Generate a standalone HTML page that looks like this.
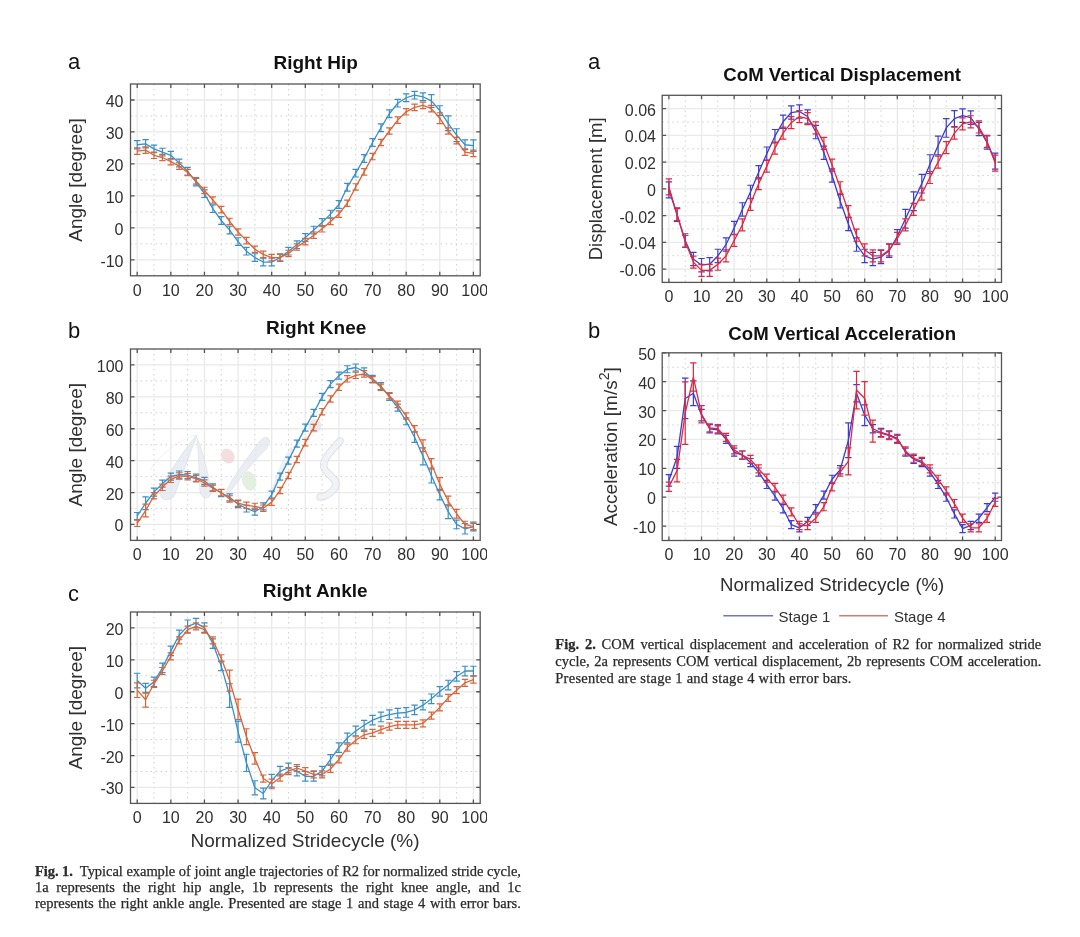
<!DOCTYPE html>
<html><head><meta charset="utf-8"><style>
html,body{margin:0;padding:0;background:#fff;}
body{width:1080px;height:937px;position:relative;overflow:hidden;filter:blur(0.4px);}
</style></head><body>
<svg width="1080" height="937" viewBox="0 0 1080 937" style="position:absolute;left:0;top:0" font-family='"Liberation Sans", sans-serif'>
<defs><clipPath id="clipL"><rect x="0" y="0" width="487" height="937"/></clipPath></defs>
<line x1="154.01" y1="84" x2="154.01" y2="275.8" stroke="#d2d2d2" stroke-width="1" stroke-dasharray="1.6 3.4"/>
<line x1="187.63" y1="84" x2="187.63" y2="275.8" stroke="#d2d2d2" stroke-width="1" stroke-dasharray="1.6 3.4"/>
<line x1="221.25" y1="84" x2="221.25" y2="275.8" stroke="#d2d2d2" stroke-width="1" stroke-dasharray="1.6 3.4"/>
<line x1="254.87" y1="84" x2="254.87" y2="275.8" stroke="#d2d2d2" stroke-width="1" stroke-dasharray="1.6 3.4"/>
<line x1="288.49" y1="84" x2="288.49" y2="275.8" stroke="#d2d2d2" stroke-width="1" stroke-dasharray="1.6 3.4"/>
<line x1="322.11" y1="84" x2="322.11" y2="275.8" stroke="#d2d2d2" stroke-width="1" stroke-dasharray="1.6 3.4"/>
<line x1="355.73" y1="84" x2="355.73" y2="275.8" stroke="#d2d2d2" stroke-width="1" stroke-dasharray="1.6 3.4"/>
<line x1="389.35" y1="84" x2="389.35" y2="275.8" stroke="#d2d2d2" stroke-width="1" stroke-dasharray="1.6 3.4"/>
<line x1="422.97" y1="84" x2="422.97" y2="275.8" stroke="#d2d2d2" stroke-width="1" stroke-dasharray="1.6 3.4"/>
<line x1="456.59" y1="84" x2="456.59" y2="275.8" stroke="#d2d2d2" stroke-width="1" stroke-dasharray="1.6 3.4"/>
<line x1="130.5" y1="243.83" x2="480.2" y2="243.83" stroke="#d2d2d2" stroke-width="1" stroke-dasharray="1.6 3.4"/>
<line x1="130.5" y1="211.87" x2="480.2" y2="211.87" stroke="#d2d2d2" stroke-width="1" stroke-dasharray="1.6 3.4"/>
<line x1="130.5" y1="179.9" x2="480.2" y2="179.9" stroke="#d2d2d2" stroke-width="1" stroke-dasharray="1.6 3.4"/>
<line x1="130.5" y1="147.93" x2="480.2" y2="147.93" stroke="#d2d2d2" stroke-width="1" stroke-dasharray="1.6 3.4"/>
<line x1="130.5" y1="115.97" x2="480.2" y2="115.97" stroke="#d2d2d2" stroke-width="1" stroke-dasharray="1.6 3.4"/>
<line x1="137.2" y1="84" x2="137.2" y2="275.8" stroke="#e9e9e9" stroke-width="1.3"/>
<line x1="170.82" y1="84" x2="170.82" y2="275.8" stroke="#e9e9e9" stroke-width="1.3"/>
<line x1="204.44" y1="84" x2="204.44" y2="275.8" stroke="#e9e9e9" stroke-width="1.3"/>
<line x1="238.06" y1="84" x2="238.06" y2="275.8" stroke="#e9e9e9" stroke-width="1.3"/>
<line x1="271.68" y1="84" x2="271.68" y2="275.8" stroke="#e9e9e9" stroke-width="1.3"/>
<line x1="305.3" y1="84" x2="305.3" y2="275.8" stroke="#e9e9e9" stroke-width="1.3"/>
<line x1="338.92" y1="84" x2="338.92" y2="275.8" stroke="#e9e9e9" stroke-width="1.3"/>
<line x1="372.54" y1="84" x2="372.54" y2="275.8" stroke="#e9e9e9" stroke-width="1.3"/>
<line x1="406.16" y1="84" x2="406.16" y2="275.8" stroke="#e9e9e9" stroke-width="1.3"/>
<line x1="439.78" y1="84" x2="439.78" y2="275.8" stroke="#e9e9e9" stroke-width="1.3"/>
<line x1="473.4" y1="84" x2="473.4" y2="275.8" stroke="#e9e9e9" stroke-width="1.3"/>
<line x1="130.5" y1="259.82" x2="480.2" y2="259.82" stroke="#e9e9e9" stroke-width="1.3"/>
<line x1="130.5" y1="227.85" x2="480.2" y2="227.85" stroke="#e9e9e9" stroke-width="1.3"/>
<line x1="130.5" y1="195.88" x2="480.2" y2="195.88" stroke="#e9e9e9" stroke-width="1.3"/>
<line x1="130.5" y1="163.92" x2="480.2" y2="163.92" stroke="#e9e9e9" stroke-width="1.3"/>
<line x1="130.5" y1="131.95" x2="480.2" y2="131.95" stroke="#e9e9e9" stroke-width="1.3"/>
<line x1="130.5" y1="99.98" x2="480.2" y2="99.98" stroke="#e9e9e9" stroke-width="1.3"/>
<polyline points="137.2,144.74 145.6,143.78 154.01,148.89 162.41,152.09 170.82,155.29 179.22,162.96 187.63,171.27 196.03,182.14 204.44,193.65 212.84,208.67 221.25,220.5 229.65,230.09 238.06,241.6 246.46,251.19 254.87,257.58 263.27,262.05 271.68,262.05 280.08,257.58 288.49,251.19 296.89,244.79 305.3,237.44 313.7,230.09 322.11,222.42 330.51,214.1 338.92,204.51 347.32,187.25 355.73,173.19 364.13,158.48 372.54,142.5 380.94,127.79 389.35,113.73 397.75,103.18 406.16,97.75 414.56,95.19 422.97,96.79 431.38,100.94 439.78,110.53 448.19,123.32 456.59,135.15 465,144.74 473.4,145.7" fill="none" stroke="#3a8fc8" stroke-width="1.3" stroke-linejoin="round"/>
<path d="M137.2 140.58V148.89M134 140.58H140.4M134 148.89H140.4M145.6 139.62V147.93M142.41 139.62H148.8M142.41 147.93H148.8M154.01 145.06V152.73M150.81 145.06H157.21M150.81 152.73H157.21M162.41 148.25V155.93M159.22 148.25H165.61M159.22 155.93H165.61M170.82 151.45V159.12M167.62 151.45H174.02M167.62 159.12H174.02M179.22 159.12V166.79M176.03 159.12H182.42M176.03 166.79H182.42M187.63 167.43V175.11M184.43 167.43H190.83M184.43 175.11H190.83M196.03 178.3V185.97M192.84 178.3H199.23M192.84 185.97H199.23M204.44 189.81V197.48M201.24 189.81H207.64M201.24 197.48H207.64M212.84 204.83V212.51M209.64 204.83H216.04M209.64 212.51H216.04M221.25 216.66V224.33M218.05 216.66H224.45M218.05 224.33H224.45M229.65 226.25V233.92M226.45 226.25H232.85M226.45 233.92H232.85M238.06 237.76V245.43M234.86 237.76H241.26M234.86 245.43H241.26M246.46 247.35V255.02M243.26 247.35H249.66M243.26 255.02H249.66M254.87 253.74V261.42M251.67 253.74H258.07M251.67 261.42H258.07M263.27 258.22V265.89M260.07 258.22H266.47M260.07 265.89H266.47M271.68 258.22V265.89M268.48 258.22H274.88M268.48 265.89H274.88M280.08 253.74V261.42M276.88 253.74H283.28M276.88 261.42H283.28M288.49 247.35V255.02M285.29 247.35H291.69M285.29 255.02H291.69M296.89 240.96V248.63M293.69 240.96H300.09M293.69 248.63H300.09M305.3 233.6V241.28M302.1 233.6H308.5M302.1 241.28H308.5M313.7 226.25V233.92M310.5 226.25H316.9M310.5 233.92H316.9M322.11 218.58V226.25M318.91 218.58H325.31M318.91 226.25H325.31M330.51 210.27V217.94M327.31 210.27H333.71M327.31 217.94H333.71M338.92 200.68V208.35M335.72 200.68H342.12M335.72 208.35H342.12M347.32 183.42V191.09M344.12 183.42H350.52M344.12 191.09H350.52M355.73 169.35V177.02M352.53 169.35H358.93M352.53 177.02H358.93M364.13 154.65V162.32M360.94 154.65H367.33M360.94 162.32H367.33M372.54 138.66V146.34M369.34 138.66H375.74M369.34 146.34H375.74M380.94 123.96V131.63M377.75 123.96H384.14M377.75 131.63H384.14M389.35 109.89V117.56M386.15 109.89H392.55M386.15 117.56H392.55M397.75 99.34V107.02M394.56 99.34H400.95M394.56 107.02H400.95M406.16 93.91V101.58M402.96 93.91H409.36M402.96 101.58H409.36M414.56 91.35V99.02M411.37 91.35H417.76M411.37 99.02H417.76M422.97 92.95V100.62M419.77 92.95H426.17M419.77 100.62H426.17M431.38 94.55V107.34M428.18 94.55H434.57M428.18 107.34H434.57M439.78 105.74V115.33M436.58 105.74H442.98M436.58 115.33H442.98M448.19 115.97V130.67M444.99 115.97H451.38M444.99 130.67H451.38M456.59 128.75V141.54M453.39 128.75H459.79M453.39 141.54H459.79M465 139.94V149.53M461.8 139.94H468.19M461.8 149.53H468.19M473.4 139.94V151.45M470.2 139.94H476.6M470.2 151.45H476.6" fill="none" stroke="#3a8fc8" stroke-width="1.2"/>
<polyline points="137.2,151.13 145.6,150.17 154.01,155.29 162.41,157.52 170.82,161.68 179.22,166.15 187.63,172.55 196.03,180.86 204.44,190.45 212.84,200.04 221.25,209.63 229.65,221.46 238.06,232.01 246.46,240.64 254.87,249.27 263.27,254.38 271.68,257.58 280.08,257.58 288.49,253.42 296.89,247.03 305.3,241.6 313.7,235.2 322.11,228.81 330.51,221.46 338.92,214.1 347.32,203.24 355.73,186.93 364.13,171.91 372.54,156.56 380.94,142.5 389.35,130.99 397.75,120.12 406.16,111.81 414.56,107.34 422.97,105.42 431.38,108.61 439.78,118.2 448.19,130.99 456.59,140.58 465,152.09 473.4,153.37" fill="none" stroke="#d9653a" stroke-width="1.3" stroke-linejoin="round"/>
<path d="M137.2 147.93V154.33M134 147.93H140.4M134 154.33H140.4M145.6 146.97V153.37M142.41 146.97H148.8M142.41 153.37H148.8M154.01 152.09V158.48M150.81 152.09H157.21M150.81 158.48H157.21M162.41 154.33V160.72M159.22 154.33H165.61M159.22 160.72H165.61M170.82 158.48V164.88M167.62 158.48H174.02M167.62 164.88H174.02M179.22 162.96V169.35M176.03 162.96H182.42M176.03 169.35H182.42M187.63 169.35V175.74M184.43 169.35H190.83M184.43 175.74H190.83M196.03 177.66V184.06M192.84 177.66H199.23M192.84 184.06H199.23M204.44 187.25V193.65M201.24 187.25H207.64M201.24 193.65H207.64M212.84 196.84V203.24M209.64 196.84H216.04M209.64 203.24H216.04M221.25 206.43V212.83M218.05 206.43H224.45M218.05 212.83H224.45M229.65 218.26V224.65M226.45 218.26H232.85M226.45 224.65H232.85M238.06 228.81V235.2M234.86 228.81H241.26M234.86 235.2H241.26M246.46 237.44V243.83M243.26 237.44H249.66M243.26 243.83H249.66M254.87 246.07V252.46M251.67 246.07H258.07M251.67 252.46H258.07M263.27 251.19V257.58M260.07 251.19H266.47M260.07 257.58H266.47M271.68 254.38V260.78M268.48 254.38H274.88M268.48 260.78H274.88M280.08 254.38V260.78M276.88 254.38H283.28M276.88 260.78H283.28M288.49 250.23V256.62M285.29 250.23H291.69M285.29 256.62H291.69M296.89 243.83V250.23M293.69 243.83H300.09M293.69 250.23H300.09M305.3 238.4V244.79M302.1 238.4H308.5M302.1 244.79H308.5M313.7 232.01V238.4M310.5 232.01H316.9M310.5 238.4H316.9M322.11 225.61V232.01M318.91 225.61H325.31M318.91 232.01H325.31M330.51 218.26V224.65M327.31 218.26H333.71M327.31 224.65H333.71M338.92 210.91V217.3M335.72 210.91H342.12M335.72 217.3H342.12M347.32 200.04V206.43M344.12 200.04H350.52M344.12 206.43H350.52M355.73 183.74V190.13M352.53 183.74H358.93M352.53 190.13H358.93M364.13 168.71V175.11M360.94 168.71H367.33M360.94 175.11H367.33M372.54 153.37V159.76M369.34 153.37H375.74M369.34 159.76H375.74M380.94 139.3V145.7M377.75 139.3H384.14M377.75 145.7H384.14M389.35 127.79V134.19M386.15 127.79H392.55M386.15 134.19H392.55M397.75 116.93V123.32M394.56 116.93H400.95M394.56 123.32H400.95M406.16 108.61V115.01M402.96 108.61H409.36M402.96 115.01H409.36M414.56 104.14V110.53M411.37 104.14H417.76M411.37 110.53H417.76M422.97 102.22V108.61M419.77 102.22H426.17M419.77 108.61H426.17M431.38 105.42V111.81M428.18 105.42H434.57M428.18 111.81H434.57M439.78 112.77V123.64M436.58 112.77H442.98M436.58 123.64H442.98M448.19 127.79V134.19M444.99 127.79H451.38M444.99 134.19H451.38M456.59 137.38V143.78M453.39 137.38H459.79M453.39 143.78H459.79M465 148.89V155.29M461.8 148.89H468.19M461.8 155.29H468.19M473.4 150.17V156.56M470.2 150.17H476.6M470.2 156.56H476.6" fill="none" stroke="#d9653a" stroke-width="1.2"/>
<rect x="130.5" y="84" width="349.7" height="191.8" fill="none" stroke="#555555" stroke-width="1.3"/>
<path d="M137.2 84v4M137.2 275.8v-4M170.82 84v4M170.82 275.8v-4M204.44 84v4M204.44 275.8v-4M238.06 84v4M238.06 275.8v-4M271.68 84v4M271.68 275.8v-4M305.3 84v4M305.3 275.8v-4M338.92 84v4M338.92 275.8v-4M372.54 84v4M372.54 275.8v-4M406.16 84v4M406.16 275.8v-4M439.78 84v4M439.78 275.8v-4M473.4 84v4M473.4 275.8v-4M130.5 259.82h4M480.2 259.82h-4M130.5 227.85h4M480.2 227.85h-4M130.5 195.88h4M480.2 195.88h-4M130.5 163.92h4M480.2 163.92h-4M130.5 131.95h4M480.2 131.95h-4M130.5 99.98h4M480.2 99.98h-4" stroke="#555555" stroke-width="1.3"/>
<g font-size="16" fill="#303030" clip-path="url(#clipL)"><text x="137.2" y="295.6" text-anchor="middle">0</text><text x="170.82" y="295.6" text-anchor="middle">10</text><text x="204.44" y="295.6" text-anchor="middle">20</text><text x="238.06" y="295.6" text-anchor="middle">30</text><text x="271.68" y="295.6" text-anchor="middle">40</text><text x="305.3" y="295.6" text-anchor="middle">50</text><text x="338.92" y="295.6" text-anchor="middle">60</text><text x="372.54" y="295.6" text-anchor="middle">70</text><text x="406.16" y="295.6" text-anchor="middle">80</text><text x="439.78" y="295.6" text-anchor="middle">90</text><text x="474.7" y="295.6" text-anchor="middle">100</text><text x="123.5" y="266.82" text-anchor="end">-10</text><text x="123.5" y="234.85" text-anchor="end">0</text><text x="123.5" y="202.88" text-anchor="end">10</text><text x="123.5" y="170.92" text-anchor="end">20</text><text x="123.5" y="138.95" text-anchor="end">30</text><text x="123.5" y="106.98" text-anchor="end">40</text></g>
<line x1="154.01" y1="349" x2="154.01" y2="540.4" stroke="#d2d2d2" stroke-width="1" stroke-dasharray="1.6 3.4"/>
<line x1="187.63" y1="349" x2="187.63" y2="540.4" stroke="#d2d2d2" stroke-width="1" stroke-dasharray="1.6 3.4"/>
<line x1="221.25" y1="349" x2="221.25" y2="540.4" stroke="#d2d2d2" stroke-width="1" stroke-dasharray="1.6 3.4"/>
<line x1="254.87" y1="349" x2="254.87" y2="540.4" stroke="#d2d2d2" stroke-width="1" stroke-dasharray="1.6 3.4"/>
<line x1="288.49" y1="349" x2="288.49" y2="540.4" stroke="#d2d2d2" stroke-width="1" stroke-dasharray="1.6 3.4"/>
<line x1="322.11" y1="349" x2="322.11" y2="540.4" stroke="#d2d2d2" stroke-width="1" stroke-dasharray="1.6 3.4"/>
<line x1="355.73" y1="349" x2="355.73" y2="540.4" stroke="#d2d2d2" stroke-width="1" stroke-dasharray="1.6 3.4"/>
<line x1="389.35" y1="349" x2="389.35" y2="540.4" stroke="#d2d2d2" stroke-width="1" stroke-dasharray="1.6 3.4"/>
<line x1="422.97" y1="349" x2="422.97" y2="540.4" stroke="#d2d2d2" stroke-width="1" stroke-dasharray="1.6 3.4"/>
<line x1="456.59" y1="349" x2="456.59" y2="540.4" stroke="#d2d2d2" stroke-width="1" stroke-dasharray="1.6 3.4"/>
<line x1="130.5" y1="508.5" x2="480.2" y2="508.5" stroke="#d2d2d2" stroke-width="1" stroke-dasharray="1.6 3.4"/>
<line x1="130.5" y1="476.6" x2="480.2" y2="476.6" stroke="#d2d2d2" stroke-width="1" stroke-dasharray="1.6 3.4"/>
<line x1="130.5" y1="444.7" x2="480.2" y2="444.7" stroke="#d2d2d2" stroke-width="1" stroke-dasharray="1.6 3.4"/>
<line x1="130.5" y1="412.8" x2="480.2" y2="412.8" stroke="#d2d2d2" stroke-width="1" stroke-dasharray="1.6 3.4"/>
<line x1="130.5" y1="380.9" x2="480.2" y2="380.9" stroke="#d2d2d2" stroke-width="1" stroke-dasharray="1.6 3.4"/>
<line x1="137.2" y1="349" x2="137.2" y2="540.4" stroke="#e9e9e9" stroke-width="1.3"/>
<line x1="170.82" y1="349" x2="170.82" y2="540.4" stroke="#e9e9e9" stroke-width="1.3"/>
<line x1="204.44" y1="349" x2="204.44" y2="540.4" stroke="#e9e9e9" stroke-width="1.3"/>
<line x1="238.06" y1="349" x2="238.06" y2="540.4" stroke="#e9e9e9" stroke-width="1.3"/>
<line x1="271.68" y1="349" x2="271.68" y2="540.4" stroke="#e9e9e9" stroke-width="1.3"/>
<line x1="305.3" y1="349" x2="305.3" y2="540.4" stroke="#e9e9e9" stroke-width="1.3"/>
<line x1="338.92" y1="349" x2="338.92" y2="540.4" stroke="#e9e9e9" stroke-width="1.3"/>
<line x1="372.54" y1="349" x2="372.54" y2="540.4" stroke="#e9e9e9" stroke-width="1.3"/>
<line x1="406.16" y1="349" x2="406.16" y2="540.4" stroke="#e9e9e9" stroke-width="1.3"/>
<line x1="439.78" y1="349" x2="439.78" y2="540.4" stroke="#e9e9e9" stroke-width="1.3"/>
<line x1="473.4" y1="349" x2="473.4" y2="540.4" stroke="#e9e9e9" stroke-width="1.3"/>
<line x1="130.5" y1="524.45" x2="480.2" y2="524.45" stroke="#e9e9e9" stroke-width="1.3"/>
<line x1="130.5" y1="492.55" x2="480.2" y2="492.55" stroke="#e9e9e9" stroke-width="1.3"/>
<line x1="130.5" y1="460.65" x2="480.2" y2="460.65" stroke="#e9e9e9" stroke-width="1.3"/>
<line x1="130.5" y1="428.75" x2="480.2" y2="428.75" stroke="#e9e9e9" stroke-width="1.3"/>
<line x1="130.5" y1="396.85" x2="480.2" y2="396.85" stroke="#e9e9e9" stroke-width="1.3"/>
<line x1="130.5" y1="364.95" x2="480.2" y2="364.95" stroke="#e9e9e9" stroke-width="1.3"/>
<g opacity="0.75"><path d="M197 435 C184 449 168 474 161 490 C157 499 168 503 174 496 C182 477 189 456 197 435 Z" fill="#e3e7f0" stroke="#cfd3dc" stroke-width="0.7"/><path d="M197 438 C199 458 199 478 200 491 C201 500 212 500 211 491 C208 472 203 452 197 438 Z" fill="#e6e9f0" stroke="#d3d6de" stroke-width="0.7"/><path d="M150 470 C160 455 178 440 196 435" fill="none" stroke="#e2e4ea" stroke-width="0.7"/><path d="M268 438 C272 442 268 448 262 453 C248 468 236 484 226 497 C225 489 238 470 254 449 C258 443 264 435 268 438 Z" fill="#e4e7ee" stroke="#d2d5dd" stroke-width="0.7"/><path d="M291 447 C282 461 275 478 271 494 C277 480 285 463 293 450 Z" fill="#eceef3" stroke="#dcdee4" stroke-width="0.6"/><path d="M340 441 C330 452 320 462 325 470 C332 478 340 482 334 489 C330 494 324 497 320 497" fill="none" stroke="#d5d8e0" stroke-width="7.5" stroke-linecap="round"/><path d="M340 441 C330 452 320 462 325 470 C332 478 340 482 334 489 C330 494 324 497 320 497" fill="none" stroke="#eef0f4" stroke-width="5.5" stroke-linecap="round"/><ellipse cx="227.8" cy="456" rx="6.5" ry="7.8" transform="rotate(-30 227.8 456)" fill="#f0d4d6"/><ellipse cx="249.2" cy="481" rx="7" ry="9.8" transform="rotate(-15 249.2 481)" fill="#dcecd5"/><ellipse cx="315" cy="426" rx="6.5" ry="7" fill="#e2e4f0"/></g>
<polyline points="137.2,516 145.6,503.24 154.01,492.07 162.41,483.62 170.82,476.6 179.22,474.53 187.63,475 196.03,477.72 204.44,480.91 212.84,487.29 221.25,493.03 229.65,497.33 238.06,504.19 246.46,508.5 254.87,511.69 263.27,506.43 271.68,494.62 280.08,476.6 288.49,460.65 296.89,443.58 305.3,427.63 313.7,412.8 322.11,396.85 330.51,384.09 338.92,375.64 347.32,369.26 355.73,367.5 364.13,371.33 372.54,378.83 380.94,386.16 389.35,396.85 397.75,407.54 406.16,421.25 414.56,437.2 422.97,456.34 431.38,475.48 439.78,494.62 448.19,511.69 456.59,524.45 465,528.76 473.4,526.52" fill="none" stroke="#3a8fc8" stroke-width="1.3" stroke-linejoin="round"/>
<path d="M137.2 512.49V519.51M134 512.49H140.4M134 519.51H140.4M145.6 496.86V509.62M142.41 496.86H148.8M142.41 509.62H148.8M154.01 488.08V496.06M150.81 488.08H157.21M150.81 496.06H157.21M162.41 480.11V487.13M159.22 480.11H165.61M159.22 487.13H165.61M170.82 473.09V480.11M167.62 473.09H174.02M167.62 480.11H174.02M179.22 471.02V478.04M176.03 471.02H182.42M176.03 478.04H182.42M187.63 471.5V478.51M184.43 471.5H190.83M184.43 478.51H190.83M196.03 474.21V481.23M192.84 474.21H199.23M192.84 481.23H199.23M204.44 477.4V484.42M201.24 477.4H207.64M201.24 484.42H207.64M212.84 483.78V490.8M209.64 483.78H216.04M209.64 490.8H216.04M221.25 489.52V496.54M218.05 489.52H224.45M218.05 496.54H224.45M229.65 493.83V500.84M226.45 493.83H232.85M226.45 500.84H232.85M238.06 500.68V507.7M234.86 500.68H241.26M234.86 507.7H241.26M246.46 504.99V512.01M243.26 504.99H249.66M243.26 512.01H249.66M254.87 508.18V515.2M251.67 508.18H258.07M251.67 515.2H258.07M263.27 502.92V509.94M260.07 502.92H266.47M260.07 509.94H266.47M271.68 491.11V498.13M268.48 491.11H274.88M268.48 498.13H274.88M280.08 473.09V480.11M276.88 473.09H283.28M276.88 480.11H283.28M288.49 457.14V464.16M285.29 457.14H291.69M285.29 464.16H291.69M296.89 440.07V447.09M293.69 440.07H300.09M293.69 447.09H300.09M305.3 424.12V431.14M302.1 424.12H308.5M302.1 431.14H308.5M313.7 409.29V416.31M310.5 409.29H316.9M310.5 416.31H316.9M322.11 393.34V400.36M318.91 393.34H325.31M318.91 400.36H325.31M330.51 380.58V387.6M327.31 380.58H333.71M327.31 387.6H333.71M338.92 372.13V379.15M335.72 372.13H342.12M335.72 379.15H342.12M347.32 365.75V372.77M344.12 365.75H350.52M344.12 372.77H350.52M355.73 363.99V371.01M352.53 363.99H358.93M352.53 371.01H358.93M364.13 367.82V374.84M360.94 367.82H367.33M360.94 374.84H367.33M372.54 375.32V382.34M369.34 375.32H375.74M369.34 382.34H375.74M380.94 382.65V389.67M377.75 382.65H384.14M377.75 389.67H384.14M389.35 393.34V400.36M386.15 393.34H392.55M386.15 400.36H392.55M397.75 404.03V411.05M394.56 404.03H400.95M394.56 411.05H400.95M406.16 417.74V424.76M402.96 417.74H409.36M402.96 424.76H409.36M414.56 431.94V442.47M411.37 431.94H417.76M411.37 442.47H417.76M422.97 447.89V464.8M419.77 447.89H426.17M419.77 464.8H426.17M431.38 467.99V482.98M428.18 467.99H434.57M428.18 482.98H434.57M439.78 489.36V499.89M436.58 489.36H442.98M436.58 499.89H442.98M448.19 504.83V518.55M444.99 504.83H451.38M444.99 518.55H451.38M456.59 520.14V528.76M453.39 520.14H459.79M453.39 528.76H459.79M465 523.49V534.02M461.8 523.49H468.19M461.8 534.02H468.19M473.4 522.22V530.83M470.2 522.22H476.6M470.2 530.83H476.6" fill="none" stroke="#3a8fc8" stroke-width="1.2"/>
<polyline points="137.2,523.33 145.6,510.57 154.01,495.74 162.41,487.29 170.82,479.31 179.22,475.96 187.63,476.6 196.03,478.67 204.44,482.98 212.84,488.24 221.25,492.55 229.65,498.93 238.06,503.24 246.46,505.31 254.87,506.43 263.27,508.18 271.68,502.12 280.08,490.48 288.49,475.48 296.89,459.53 305.3,442.63 313.7,427.63 322.11,411.68 330.51,398.92 338.92,387.28 347.32,378.83 355.73,375.32 364.13,373.88 372.54,379.78 380.94,387.28 389.35,395.73 397.75,404.35 406.16,415.99 414.56,428.75 422.97,445.82 431.38,463.84 439.78,484.1 448.19,501 456.59,513.76 465,524.45 473.4,526.52" fill="none" stroke="#d9653a" stroke-width="1.3" stroke-linejoin="round"/>
<path d="M137.2 520.14V526.52M134 520.14H140.4M134 526.52H140.4M145.6 504.19V516.95M142.41 504.19H148.8M142.41 516.95H148.8M154.01 492.55V498.93M150.81 492.55H157.21M150.81 498.93H157.21M162.41 484.1V490.48M159.22 484.1H165.61M159.22 490.48H165.61M170.82 476.12V482.5M167.62 476.12H174.02M167.62 482.5H174.02M179.22 472.77V479.15M176.03 472.77H182.42M176.03 479.15H182.42M187.63 473.41V479.79M184.43 473.41H190.83M184.43 479.79H190.83M196.03 475.48V481.86M192.84 475.48H199.23M192.84 481.86H199.23M204.44 479.79V486.17M201.24 479.79H207.64M201.24 486.17H207.64M212.84 485.05V491.43M209.64 485.05H216.04M209.64 491.43H216.04M221.25 489.36V495.74M218.05 489.36H224.45M218.05 495.74H224.45M229.65 495.74V502.12M226.45 495.74H232.85M226.45 502.12H232.85M238.06 500.05V506.43M234.86 500.05H241.26M234.86 506.43H241.26M246.46 502.12V508.5M243.26 502.12H249.66M243.26 508.5H249.66M254.87 503.24V509.62M251.67 503.24H258.07M251.67 509.62H258.07M263.27 504.99V511.37M260.07 504.99H266.47M260.07 511.37H266.47M271.68 498.93V505.31M268.48 498.93H274.88M268.48 505.31H274.88M280.08 487.29V493.67M276.88 487.29H283.28M276.88 493.67H283.28M288.49 472.29V478.67M285.29 472.29H291.69M285.29 478.67H291.69M296.89 456.34V462.72M293.69 456.34H300.09M293.69 462.72H300.09M305.3 439.44V445.82M302.1 439.44H308.5M302.1 445.82H308.5M313.7 424.44V430.82M310.5 424.44H316.9M310.5 430.82H316.9M322.11 408.49V414.87M318.91 408.49H325.31M318.91 414.87H325.31M330.51 395.73V402.11M327.31 395.73H333.71M327.31 402.11H333.71M338.92 384.09V390.47M335.72 384.09H342.12M335.72 390.47H342.12M347.32 375.64V382.02M344.12 375.64H350.52M344.12 382.02H350.52M355.73 372.13V378.51M352.53 372.13H358.93M352.53 378.51H358.93M364.13 370.69V377.07M360.94 370.69H367.33M360.94 377.07H367.33M372.54 376.59V382.97M369.34 376.59H375.74M369.34 382.97H375.74M380.94 384.09V390.47M377.75 384.09H384.14M377.75 390.47H384.14M389.35 392.54V398.92M386.15 392.54H392.55M386.15 398.92H392.55M397.75 401.16V407.54M394.56 401.16H400.95M394.56 407.54H400.95M406.16 412.8V419.18M402.96 412.8H409.36M402.96 419.18H409.36M414.56 425.56V431.94M411.37 425.56H417.76M411.37 431.94H417.76M422.97 439.91V451.72M419.77 439.91H426.17M419.77 451.72H426.17M431.38 458.58V469.1M428.18 458.58H434.57M428.18 469.1H434.57M439.78 477.72V490.48M436.58 477.72H442.98M436.58 490.48H442.98M448.19 496.22V505.79M444.99 496.22H451.38M444.99 505.79H451.38M456.59 509.46V518.07M453.39 509.46H459.79M453.39 518.07H459.79M465 521.26V527.64M461.8 521.26H468.19M461.8 527.64H468.19M473.4 523.33V529.71M470.2 523.33H476.6M470.2 529.71H476.6" fill="none" stroke="#d9653a" stroke-width="1.2"/>
<rect x="130.5" y="349" width="349.7" height="191.4" fill="none" stroke="#555555" stroke-width="1.3"/>
<path d="M137.2 349v4M137.2 540.4v-4M170.82 349v4M170.82 540.4v-4M204.44 349v4M204.44 540.4v-4M238.06 349v4M238.06 540.4v-4M271.68 349v4M271.68 540.4v-4M305.3 349v4M305.3 540.4v-4M338.92 349v4M338.92 540.4v-4M372.54 349v4M372.54 540.4v-4M406.16 349v4M406.16 540.4v-4M439.78 349v4M439.78 540.4v-4M473.4 349v4M473.4 540.4v-4M130.5 524.45h4M480.2 524.45h-4M130.5 492.55h4M480.2 492.55h-4M130.5 460.65h4M480.2 460.65h-4M130.5 428.75h4M480.2 428.75h-4M130.5 396.85h4M480.2 396.85h-4M130.5 364.95h4M480.2 364.95h-4" stroke="#555555" stroke-width="1.3"/>
<g font-size="16" fill="#303030" clip-path="url(#clipL)"><text x="137.2" y="560.2" text-anchor="middle">0</text><text x="170.82" y="560.2" text-anchor="middle">10</text><text x="204.44" y="560.2" text-anchor="middle">20</text><text x="238.06" y="560.2" text-anchor="middle">30</text><text x="271.68" y="560.2" text-anchor="middle">40</text><text x="305.3" y="560.2" text-anchor="middle">50</text><text x="338.92" y="560.2" text-anchor="middle">60</text><text x="372.54" y="560.2" text-anchor="middle">70</text><text x="406.16" y="560.2" text-anchor="middle">80</text><text x="439.78" y="560.2" text-anchor="middle">90</text><text x="474.7" y="560.2" text-anchor="middle">100</text><text x="123.5" y="531.45" text-anchor="end">0</text><text x="123.5" y="499.55" text-anchor="end">20</text><text x="123.5" y="467.65" text-anchor="end">40</text><text x="123.5" y="435.75" text-anchor="end">60</text><text x="123.5" y="403.85" text-anchor="end">80</text><text x="123.5" y="371.95" text-anchor="end">100</text></g>
<line x1="154.01" y1="612" x2="154.01" y2="803.4" stroke="#d2d2d2" stroke-width="1" stroke-dasharray="1.6 3.4"/>
<line x1="187.63" y1="612" x2="187.63" y2="803.4" stroke="#d2d2d2" stroke-width="1" stroke-dasharray="1.6 3.4"/>
<line x1="221.25" y1="612" x2="221.25" y2="803.4" stroke="#d2d2d2" stroke-width="1" stroke-dasharray="1.6 3.4"/>
<line x1="254.87" y1="612" x2="254.87" y2="803.4" stroke="#d2d2d2" stroke-width="1" stroke-dasharray="1.6 3.4"/>
<line x1="288.49" y1="612" x2="288.49" y2="803.4" stroke="#d2d2d2" stroke-width="1" stroke-dasharray="1.6 3.4"/>
<line x1="322.11" y1="612" x2="322.11" y2="803.4" stroke="#d2d2d2" stroke-width="1" stroke-dasharray="1.6 3.4"/>
<line x1="355.73" y1="612" x2="355.73" y2="803.4" stroke="#d2d2d2" stroke-width="1" stroke-dasharray="1.6 3.4"/>
<line x1="389.35" y1="612" x2="389.35" y2="803.4" stroke="#d2d2d2" stroke-width="1" stroke-dasharray="1.6 3.4"/>
<line x1="422.97" y1="612" x2="422.97" y2="803.4" stroke="#d2d2d2" stroke-width="1" stroke-dasharray="1.6 3.4"/>
<line x1="456.59" y1="612" x2="456.59" y2="803.4" stroke="#d2d2d2" stroke-width="1" stroke-dasharray="1.6 3.4"/>
<line x1="130.5" y1="771.5" x2="480.2" y2="771.5" stroke="#d2d2d2" stroke-width="1" stroke-dasharray="1.6 3.4"/>
<line x1="130.5" y1="739.6" x2="480.2" y2="739.6" stroke="#d2d2d2" stroke-width="1" stroke-dasharray="1.6 3.4"/>
<line x1="130.5" y1="707.7" x2="480.2" y2="707.7" stroke="#d2d2d2" stroke-width="1" stroke-dasharray="1.6 3.4"/>
<line x1="130.5" y1="675.8" x2="480.2" y2="675.8" stroke="#d2d2d2" stroke-width="1" stroke-dasharray="1.6 3.4"/>
<line x1="130.5" y1="643.9" x2="480.2" y2="643.9" stroke="#d2d2d2" stroke-width="1" stroke-dasharray="1.6 3.4"/>
<line x1="137.2" y1="612" x2="137.2" y2="803.4" stroke="#e9e9e9" stroke-width="1.3"/>
<line x1="170.82" y1="612" x2="170.82" y2="803.4" stroke="#e9e9e9" stroke-width="1.3"/>
<line x1="204.44" y1="612" x2="204.44" y2="803.4" stroke="#e9e9e9" stroke-width="1.3"/>
<line x1="238.06" y1="612" x2="238.06" y2="803.4" stroke="#e9e9e9" stroke-width="1.3"/>
<line x1="271.68" y1="612" x2="271.68" y2="803.4" stroke="#e9e9e9" stroke-width="1.3"/>
<line x1="305.3" y1="612" x2="305.3" y2="803.4" stroke="#e9e9e9" stroke-width="1.3"/>
<line x1="338.92" y1="612" x2="338.92" y2="803.4" stroke="#e9e9e9" stroke-width="1.3"/>
<line x1="372.54" y1="612" x2="372.54" y2="803.4" stroke="#e9e9e9" stroke-width="1.3"/>
<line x1="406.16" y1="612" x2="406.16" y2="803.4" stroke="#e9e9e9" stroke-width="1.3"/>
<line x1="439.78" y1="612" x2="439.78" y2="803.4" stroke="#e9e9e9" stroke-width="1.3"/>
<line x1="473.4" y1="612" x2="473.4" y2="803.4" stroke="#e9e9e9" stroke-width="1.3"/>
<line x1="130.5" y1="787.45" x2="480.2" y2="787.45" stroke="#e9e9e9" stroke-width="1.3"/>
<line x1="130.5" y1="755.55" x2="480.2" y2="755.55" stroke="#e9e9e9" stroke-width="1.3"/>
<line x1="130.5" y1="723.65" x2="480.2" y2="723.65" stroke="#e9e9e9" stroke-width="1.3"/>
<line x1="130.5" y1="691.75" x2="480.2" y2="691.75" stroke="#e9e9e9" stroke-width="1.3"/>
<line x1="130.5" y1="659.85" x2="480.2" y2="659.85" stroke="#e9e9e9" stroke-width="1.3"/>
<line x1="130.5" y1="627.95" x2="480.2" y2="627.95" stroke="#e9e9e9" stroke-width="1.3"/>
<polyline points="137.2,680.59 145.6,688.24 154.01,681.86 162.41,667.83 170.82,650.92 179.22,634.97 187.63,626.36 196.03,623.16 204.44,627.63 212.84,643.58 221.25,665.91 229.65,695.58 238.06,731.62 246.46,762.89 254.87,787.77 263.27,793.51 271.68,780.75 280.08,771.18 288.49,767.99 296.89,771.18 305.3,776.28 313.7,776.28 322.11,771.18 330.51,759.38 338.92,747.57 347.32,738 355.73,730.99 364.13,725.25 372.54,720.14 380.94,716.95 389.35,714.72 397.75,713.12 406.16,712.49 414.56,709.93 422.97,705.15 431.38,698.77 439.78,691.43 448.19,685.05 456.59,676.44 465,671.01 473.4,671.01" fill="none" stroke="#3a8fc8" stroke-width="1.3" stroke-linejoin="round"/>
<path d="M137.2 673.25V687.92M134 673.25H140.4M134 687.92H140.4M145.6 683.46V693.03M142.41 683.46H148.8M142.41 693.03H148.8M154.01 677.08V686.65M150.81 677.08H157.21M150.81 686.65H157.21M162.41 663.04V672.61M159.22 663.04H165.61M159.22 672.61H165.61M170.82 646.13V655.7M167.62 646.13H174.02M167.62 655.7H174.02M179.22 630.18V639.75M176.03 630.18H182.42M176.03 639.75H182.42M187.63 619.98V632.74M184.43 619.98H190.83M184.43 632.74H190.83M196.03 618.38V627.95M192.84 618.38H199.23M192.84 627.95H199.23M204.44 622.85V632.42M201.24 622.85H207.64M201.24 632.42H207.64M212.84 638.8V648.37M209.64 638.8H216.04M209.64 648.37H216.04M221.25 661.13V670.7M218.05 661.13H224.45M218.05 670.7H224.45M229.65 683.77V707.38M226.45 683.77H232.85M226.45 707.38H232.85M238.06 721.1V742.15M234.86 721.1H241.26M234.86 742.15H241.26M246.46 754.27V771.5M243.26 754.27H249.66M243.26 771.5H249.66M254.87 780.75V794.79M251.67 780.75H258.07M251.67 794.79H258.07M263.27 788.09V798.93M260.07 788.09H266.47M260.07 798.93H266.47M271.68 774.37V787.13M268.48 774.37H274.88M268.48 787.13H274.88M280.08 766.4V775.97M276.88 766.4H283.28M276.88 775.97H283.28M288.49 763.21V772.78M285.29 763.21H291.69M285.29 772.78H291.69M296.89 766.4V775.97M293.69 766.4H300.09M293.69 775.97H300.09M305.3 771.5V781.07M302.1 771.5H308.5M302.1 781.07H308.5M313.7 771.5V781.07M310.5 771.5H316.9M310.5 781.07H316.9M322.11 766.4V775.97M318.91 766.4H325.31M318.91 775.97H325.31M330.51 754.59V764.16M327.31 754.59H333.71M327.31 764.16H333.71M338.92 742.79V752.36M335.72 742.79H342.12M335.72 752.36H342.12M347.32 733.22V742.79M344.12 733.22H350.52M344.12 742.79H350.52M355.73 726.2V735.77M352.53 726.2H358.93M352.53 735.77H358.93M364.13 720.46V730.03M360.94 720.46H367.33M360.94 730.03H367.33M372.54 715.36V724.93M369.34 715.36H375.74M369.34 724.93H375.74M380.94 712.17V721.74M377.75 712.17H384.14M377.75 721.74H384.14M389.35 709.93V719.5M386.15 709.93H392.55M386.15 719.5H392.55M397.75 708.34V717.91M394.56 708.34H400.95M394.56 717.91H400.95M406.16 707.7V717.27M402.96 707.7H409.36M402.96 717.27H409.36M414.56 705.15V714.72M411.37 705.15H417.76M411.37 714.72H417.76M422.97 700.36V709.93M419.77 700.36H426.17M419.77 709.93H426.17M431.38 693.98V703.55M428.18 693.98H434.57M428.18 703.55H434.57M439.78 686.65V696.22M436.58 686.65H442.98M436.58 696.22H442.98M448.19 680.27V689.84M444.99 680.27H451.38M444.99 689.84H451.38M456.59 671.65V681.22M453.39 671.65H459.79M453.39 681.22H459.79M465 666.23V675.8M461.8 666.23H468.19M461.8 675.8H468.19M473.4 666.23V675.8M470.2 666.23H476.6M470.2 675.8H476.6" fill="none" stroke="#3a8fc8" stroke-width="1.2"/>
<polyline points="137.2,690.15 145.6,699.73 154.01,683.77 162.41,671.01 170.82,656.34 179.22,640.39 187.63,629.54 196.03,626.36 204.44,629.54 212.84,640.39 221.25,658.25 229.65,680.59 238.06,709.29 246.46,736.73 254.87,758.42 263.27,778.52 271.68,783.94 280.08,777.56 288.49,771.18 296.89,767.99 305.3,771.18 313.7,774.37 322.11,774.37 330.51,768.95 338.92,759.38 347.32,747.57 355.73,740.24 364.13,734.81 372.54,732.9 380.94,729.71 389.35,726.52 397.75,724.93 406.16,724.93 414.56,724.93 422.97,723.33 431.38,715.67 439.78,707.38 448.19,697.81 456.59,690.15 465,682.82 473.4,679.63" fill="none" stroke="#d9653a" stroke-width="1.3" stroke-linejoin="round"/>
<path d="M137.2 682.82V697.49M134 682.82H140.4M134 697.49H140.4M145.6 692.39V707.06M142.41 692.39H148.8M142.41 707.06H148.8M154.01 680.27V687.28M150.81 680.27H157.21M150.81 687.28H157.21M162.41 667.51V674.52M159.22 667.51H165.61M159.22 674.52H165.61M170.82 652.83V659.85M167.62 652.83H174.02M167.62 659.85H174.02M179.22 636.88V643.9M176.03 636.88H182.42M176.03 643.9H182.42M187.63 626.04V633.05M184.43 626.04H190.83M184.43 633.05H190.83M196.03 622.85V629.86M192.84 622.85H199.23M192.84 629.86H199.23M204.44 626.04V633.05M201.24 626.04H207.64M201.24 633.05H207.64M212.84 636.88V643.9M209.64 636.88H216.04M209.64 643.9H216.04M221.25 654.75V661.76M218.05 654.75H224.45M218.05 661.76H224.45M229.65 670.06V691.11M226.45 670.06H232.85M226.45 691.11H232.85M238.06 699.09V719.5M234.86 699.09H241.26M234.86 719.5H241.26M246.46 728.75V744.7M243.26 728.75H249.66M243.26 744.7H249.66M254.87 752.68V764.16M251.67 752.68H258.07M251.67 764.16H258.07M263.27 775.01V782.03M260.07 775.01H266.47M260.07 782.03H266.47M271.68 779.16V788.73M268.48 779.16H274.88M268.48 788.73H274.88M280.08 774.05V781.07M276.88 774.05H283.28M276.88 781.07H283.28M288.49 767.67V774.69M285.29 767.67H291.69M285.29 774.69H291.69M296.89 764.48V771.5M293.69 764.48H300.09M293.69 771.5H300.09M305.3 767.67V774.69M302.1 767.67H308.5M302.1 774.69H308.5M313.7 770.86V777.88M310.5 770.86H316.9M310.5 777.88H316.9M322.11 770.86V777.88M318.91 770.86H325.31M318.91 777.88H325.31M330.51 765.44V772.46M327.31 765.44H333.71M327.31 772.46H333.71M338.92 755.87V762.89M335.72 755.87H342.12M335.72 762.89H342.12M347.32 744.07V751.08M344.12 744.07H350.52M344.12 751.08H350.52M355.73 736.73V743.75M352.53 736.73H358.93M352.53 743.75H358.93M364.13 731.31V738.32M360.94 731.31H367.33M360.94 738.32H367.33M372.54 729.39V736.41M369.34 729.39H375.74M369.34 736.41H375.74M380.94 726.2V733.22M377.75 726.2H384.14M377.75 733.22H384.14M389.35 723.01V730.03M386.15 723.01H392.55M386.15 730.03H392.55M397.75 721.42V728.43M394.56 721.42H400.95M394.56 728.43H400.95M406.16 721.42V728.43M402.96 721.42H409.36M402.96 728.43H409.36M414.56 721.42V728.43M411.37 721.42H417.76M411.37 728.43H417.76M422.97 719.82V726.84M419.77 719.82H426.17M419.77 726.84H426.17M431.38 712.17V719.18M428.18 712.17H434.57M428.18 719.18H434.57M439.78 703.87V710.89M436.58 703.87H442.98M436.58 710.89H442.98M448.19 694.3V701.32M444.99 694.3H451.38M444.99 701.32H451.38M456.59 686.65V693.66M453.39 686.65H459.79M453.39 693.66H459.79M465 679.31V686.33M461.8 679.31H468.19M461.8 686.33H468.19M473.4 676.12V683.14M470.2 676.12H476.6M470.2 683.14H476.6" fill="none" stroke="#d9653a" stroke-width="1.2"/>
<rect x="130.5" y="612" width="349.7" height="191.4" fill="none" stroke="#555555" stroke-width="1.3"/>
<path d="M137.2 612v4M137.2 803.4v-4M170.82 612v4M170.82 803.4v-4M204.44 612v4M204.44 803.4v-4M238.06 612v4M238.06 803.4v-4M271.68 612v4M271.68 803.4v-4M305.3 612v4M305.3 803.4v-4M338.92 612v4M338.92 803.4v-4M372.54 612v4M372.54 803.4v-4M406.16 612v4M406.16 803.4v-4M439.78 612v4M439.78 803.4v-4M473.4 612v4M473.4 803.4v-4M130.5 787.45h4M480.2 787.45h-4M130.5 755.55h4M480.2 755.55h-4M130.5 723.65h4M480.2 723.65h-4M130.5 691.75h4M480.2 691.75h-4M130.5 659.85h4M480.2 659.85h-4M130.5 627.95h4M480.2 627.95h-4" stroke="#555555" stroke-width="1.3"/>
<g font-size="16" fill="#303030" clip-path="url(#clipL)"><text x="137.2" y="823.2" text-anchor="middle">0</text><text x="170.82" y="823.2" text-anchor="middle">10</text><text x="204.44" y="823.2" text-anchor="middle">20</text><text x="238.06" y="823.2" text-anchor="middle">30</text><text x="271.68" y="823.2" text-anchor="middle">40</text><text x="305.3" y="823.2" text-anchor="middle">50</text><text x="338.92" y="823.2" text-anchor="middle">60</text><text x="372.54" y="823.2" text-anchor="middle">70</text><text x="406.16" y="823.2" text-anchor="middle">80</text><text x="439.78" y="823.2" text-anchor="middle">90</text><text x="474.7" y="823.2" text-anchor="middle">100</text><text x="123.5" y="794.45" text-anchor="end">-30</text><text x="123.5" y="762.55" text-anchor="end">-20</text><text x="123.5" y="730.65" text-anchor="end">-10</text><text x="123.5" y="698.75" text-anchor="end">0</text><text x="123.5" y="666.85" text-anchor="end">10</text><text x="123.5" y="634.95" text-anchor="end">20</text></g>
<line x1="685.21" y1="95.3" x2="685.21" y2="282.4" stroke="#d2d2d2" stroke-width="1" stroke-dasharray="1.6 3.4"/>
<line x1="717.85" y1="95.3" x2="717.85" y2="282.4" stroke="#d2d2d2" stroke-width="1" stroke-dasharray="1.6 3.4"/>
<line x1="750.48" y1="95.3" x2="750.48" y2="282.4" stroke="#d2d2d2" stroke-width="1" stroke-dasharray="1.6 3.4"/>
<line x1="783.11" y1="95.3" x2="783.11" y2="282.4" stroke="#d2d2d2" stroke-width="1" stroke-dasharray="1.6 3.4"/>
<line x1="815.74" y1="95.3" x2="815.74" y2="282.4" stroke="#d2d2d2" stroke-width="1" stroke-dasharray="1.6 3.4"/>
<line x1="848.37" y1="95.3" x2="848.37" y2="282.4" stroke="#d2d2d2" stroke-width="1" stroke-dasharray="1.6 3.4"/>
<line x1="881" y1="95.3" x2="881" y2="282.4" stroke="#d2d2d2" stroke-width="1" stroke-dasharray="1.6 3.4"/>
<line x1="913.62" y1="95.3" x2="913.62" y2="282.4" stroke="#d2d2d2" stroke-width="1" stroke-dasharray="1.6 3.4"/>
<line x1="946.25" y1="95.3" x2="946.25" y2="282.4" stroke="#d2d2d2" stroke-width="1" stroke-dasharray="1.6 3.4"/>
<line x1="978.88" y1="95.3" x2="978.88" y2="282.4" stroke="#d2d2d2" stroke-width="1" stroke-dasharray="1.6 3.4"/>
<line x1="662.2" y1="255.67" x2="1001.5" y2="255.67" stroke="#d2d2d2" stroke-width="1" stroke-dasharray="1.6 3.4"/>
<line x1="662.2" y1="228.94" x2="1001.5" y2="228.94" stroke="#d2d2d2" stroke-width="1" stroke-dasharray="1.6 3.4"/>
<line x1="662.2" y1="202.21" x2="1001.5" y2="202.21" stroke="#d2d2d2" stroke-width="1" stroke-dasharray="1.6 3.4"/>
<line x1="662.2" y1="175.49" x2="1001.5" y2="175.49" stroke="#d2d2d2" stroke-width="1" stroke-dasharray="1.6 3.4"/>
<line x1="662.2" y1="148.76" x2="1001.5" y2="148.76" stroke="#d2d2d2" stroke-width="1" stroke-dasharray="1.6 3.4"/>
<line x1="662.2" y1="122.03" x2="1001.5" y2="122.03" stroke="#d2d2d2" stroke-width="1" stroke-dasharray="1.6 3.4"/>
<line x1="668.9" y1="95.3" x2="668.9" y2="282.4" stroke="#e9e9e9" stroke-width="1.3"/>
<line x1="701.53" y1="95.3" x2="701.53" y2="282.4" stroke="#e9e9e9" stroke-width="1.3"/>
<line x1="734.16" y1="95.3" x2="734.16" y2="282.4" stroke="#e9e9e9" stroke-width="1.3"/>
<line x1="766.79" y1="95.3" x2="766.79" y2="282.4" stroke="#e9e9e9" stroke-width="1.3"/>
<line x1="799.42" y1="95.3" x2="799.42" y2="282.4" stroke="#e9e9e9" stroke-width="1.3"/>
<line x1="832.05" y1="95.3" x2="832.05" y2="282.4" stroke="#e9e9e9" stroke-width="1.3"/>
<line x1="864.68" y1="95.3" x2="864.68" y2="282.4" stroke="#e9e9e9" stroke-width="1.3"/>
<line x1="897.31" y1="95.3" x2="897.31" y2="282.4" stroke="#e9e9e9" stroke-width="1.3"/>
<line x1="929.94" y1="95.3" x2="929.94" y2="282.4" stroke="#e9e9e9" stroke-width="1.3"/>
<line x1="962.57" y1="95.3" x2="962.57" y2="282.4" stroke="#e9e9e9" stroke-width="1.3"/>
<line x1="995.2" y1="95.3" x2="995.2" y2="282.4" stroke="#e9e9e9" stroke-width="1.3"/>
<line x1="662.2" y1="269.04" x2="1001.5" y2="269.04" stroke="#e9e9e9" stroke-width="1.3"/>
<line x1="662.2" y1="242.31" x2="1001.5" y2="242.31" stroke="#e9e9e9" stroke-width="1.3"/>
<line x1="662.2" y1="215.58" x2="1001.5" y2="215.58" stroke="#e9e9e9" stroke-width="1.3"/>
<line x1="662.2" y1="188.85" x2="1001.5" y2="188.85" stroke="#e9e9e9" stroke-width="1.3"/>
<line x1="662.2" y1="162.12" x2="1001.5" y2="162.12" stroke="#e9e9e9" stroke-width="1.3"/>
<line x1="662.2" y1="135.39" x2="1001.5" y2="135.39" stroke="#e9e9e9" stroke-width="1.3"/>
<line x1="662.2" y1="108.66" x2="1001.5" y2="108.66" stroke="#e9e9e9" stroke-width="1.3"/>
<polyline points="668.9,189.92 677.06,214.64 685.21,240.44 693.37,259.01 701.53,265.16 709.69,264.22 717.85,255.94 726,244.58 734.16,228.01 742.32,209.43 750.48,191.92 758.63,172.28 766.79,153.7 774.95,136.19 783.11,121.76 791.26,112.54 799.42,111.47 807.58,116.55 815.74,132.05 823.89,152.77 832.05,175.49 840.21,201.28 848.37,224 856.52,244.58 864.68,255.94 872.84,259.01 881,257.01 889.15,250.73 897.31,236.29 905.47,218.79 913.62,201.28 921.78,183.64 929.94,164.13 938.1,145.55 946.25,127.91 954.41,118.69 962.57,115.61 970.73,117.62 978.88,128.98 987.04,142.48 995.2,161.05" fill="none" stroke="#3c3cd2" stroke-width="1.3" stroke-linejoin="round"/>
<path d="M668.9 181.9V197.94M665.7 181.9H672.1M665.7 197.94H672.1M677.06 207.96V221.33M673.86 207.96H680.26M673.86 221.33H680.26M685.21 233.75V247.12M682.01 233.75H688.41M682.01 247.12H688.41M693.37 252.33V265.69M690.17 252.33H696.57M690.17 265.69H696.57M701.53 258.48V271.84M698.33 258.48H704.73M698.33 271.84H704.73M709.69 257.54V270.91M706.49 257.54H712.89M706.49 270.91H712.89M717.85 249.26V262.62M714.64 249.26H721.05M714.64 262.62H721.05M726 237.9V251.26M722.8 237.9H729.2M722.8 251.26H729.2M734.16 221.33V234.69M730.96 221.33H737.36M730.96 234.69H737.36M742.32 202.75V216.11M739.12 202.75H745.52M739.12 216.11H745.52M750.48 185.24V198.61M747.27 185.24H753.68M747.27 198.61H753.68M758.63 165.6V178.96M755.43 165.6H761.83M755.43 178.96H761.83M766.79 147.02V160.38M763.59 147.02H769.99M763.59 160.38H769.99M774.95 129.51V142.88M771.75 129.51H778.15M771.75 142.88H778.15M783.11 115.08V128.44M779.9 115.08H786.31M779.9 128.44H786.31M791.26 105.86V119.22M788.06 105.86H794.46M788.06 119.22H794.46M799.42 104.79V118.15M796.22 104.79H802.62M796.22 118.15H802.62M807.58 109.87V123.23M804.38 109.87H810.78M804.38 123.23H810.78M815.74 125.37V138.73M812.53 125.37H818.94M812.53 138.73H818.94M823.89 146.08V159.45M820.69 146.08H827.09M820.69 159.45H827.09M832.05 168.8V182.17M828.85 168.8H835.25M828.85 182.17H835.25M840.21 194.6V207.96M837.01 194.6H843.41M837.01 207.96H843.41M848.37 217.32V230.68M845.16 217.32H851.57M845.16 230.68H851.57M856.52 237.9V251.26M853.32 237.9H859.72M853.32 251.26H859.72M864.68 249.26V262.62M861.48 249.26H867.88M861.48 262.62H867.88M872.84 252.33V265.69M869.64 252.33H876.04M869.64 265.69H876.04M881 250.33V263.69M877.79 250.33H884.2M877.79 263.69H884.2M889.15 244.04V257.41M885.95 244.04H892.35M885.95 257.41H892.35M897.31 229.61V242.98M894.11 229.61H900.51M894.11 242.98H900.51M905.47 209.43V228.14M902.27 209.43H908.67M902.27 228.14H908.67M913.62 191.92V210.63M910.42 191.92H916.83M910.42 210.63H916.83M921.78 174.28V192.99M918.58 174.28H924.98M918.58 192.99H924.98M929.94 154.77V173.48M926.74 154.77H933.14M926.74 173.48H933.14M938.1 136.19V154.9M934.9 136.19H941.3M934.9 154.9H941.3M946.25 118.55V137.26M943.05 118.55H949.46M943.05 137.26H949.46M954.41 110.67V126.71M951.21 110.67H957.61M951.21 126.71H957.61M962.57 108.93V122.3M959.37 108.93H965.77M959.37 122.3H965.77M970.73 110.94V124.3M967.53 110.94H973.93M967.53 124.3H973.93M978.88 122.3V135.66M975.68 122.3H982.09M975.68 135.66H982.09M987.04 135.79V149.16M983.84 135.79H990.24M983.84 149.16H990.24M995.2 153.03V169.07M992 153.03H998.4M992 169.07H998.4" fill="none" stroke="#3c3cd2" stroke-width="1.2"/>
<polyline points="668.9,186.85 677.06,214.64 685.21,241.51 693.37,262.09 701.53,270.37 709.69,270.37 717.85,264.22 726,255.94 734.16,240.44 742.32,224.93 750.48,204.35 758.63,183.64 766.79,166.13 774.95,148.09 783.11,133.12 791.26,122.7 799.42,116.55 807.58,118.69 815.74,127.91 823.89,143.41 832.05,165.06 840.21,187.78 848.37,211.57 856.52,235.22 864.68,249.79 872.84,255.94 881,255.94 889.15,249.79 897.31,238.3 905.47,224.93 913.62,209.43 921.78,194.06 929.94,177.49 938.1,162.12 946.25,147.55 954.41,133.12 962.57,123.9 970.73,121.76 978.88,126.97 987.04,141.41 995.2,163.06" fill="none" stroke="#e0283c" stroke-width="1.3" stroke-linejoin="round"/>
<path d="M668.9 178.83V194.86M665.7 178.83H672.1M665.7 194.86H672.1M677.06 208.63V220.66M673.86 208.63H680.26M673.86 220.66H680.26M685.21 235.49V247.52M682.01 235.49H688.41M682.01 247.52H688.41M693.37 256.07V268.1M690.17 256.07H696.57M690.17 268.1H696.57M701.53 264.36V276.39M698.33 264.36H704.73M698.33 276.39H704.73M709.69 264.36V276.39M706.49 264.36H712.89M706.49 276.39H712.89M717.85 258.21V270.24M714.64 258.21H721.05M714.64 270.24H721.05M726 249.92V261.95M722.8 249.92H729.2M722.8 261.95H729.2M734.16 234.42V246.45M730.96 234.42H737.36M730.96 246.45H737.36M742.32 218.92V230.95M739.12 218.92H745.52M739.12 230.95H745.52M750.48 198.34V210.37M747.27 198.34H753.68M747.27 210.37H753.68M758.63 177.62V189.65M755.43 177.62H761.83M755.43 189.65H761.83M766.79 160.12V172.14M763.59 160.12H769.99M763.59 172.14H769.99M774.95 142.07V154.1M771.75 142.07H778.15M771.75 154.1H778.15M783.11 127.11V139.13M779.9 127.11H786.31M779.9 139.13H786.31M791.26 116.68V128.71M788.06 116.68H794.46M788.06 128.71H794.46M799.42 110.54V122.56M796.22 110.54H802.62M796.22 122.56H802.62M807.58 112.67V124.7M804.38 112.67H810.78M804.38 124.7H810.78M815.74 121.89V133.92M812.53 121.89H818.94M812.53 133.92H818.94M823.89 137.4V149.43M820.69 137.4H827.09M820.69 149.43H827.09M832.05 159.05V171.08M828.85 159.05H835.25M828.85 171.08H835.25M840.21 181.77V193.79M837.01 181.77H843.41M837.01 193.79H843.41M848.37 205.56V217.58M845.16 205.56H851.57M845.16 217.58H851.57M856.52 229.21V241.24M853.32 229.21H859.72M853.32 241.24H859.72M864.68 243.78V255.81M861.48 243.78H867.88M861.48 255.81H867.88M872.84 249.92V261.95M869.64 249.92H876.04M869.64 261.95H876.04M881 249.92V261.95M877.79 249.92H884.2M877.79 261.95H884.2M889.15 243.78V255.81M885.95 243.78H892.35M885.95 255.81H892.35M897.31 232.28V244.31M894.11 232.28H900.51M894.11 244.31H900.51M905.47 218.92V230.95M902.27 218.92H908.67M902.27 230.95H908.67M913.62 203.42V215.44M910.42 203.42H916.83M910.42 215.44H916.83M921.78 188.05V200.08M918.58 188.05H924.98M918.58 200.08H924.98M929.94 171.48V183.5M926.74 171.48H933.14M926.74 183.5H933.14M938.1 156.11V168.14M934.9 156.11H941.3M934.9 168.14H941.3M946.25 141.54V153.57M943.05 141.54H949.46M943.05 153.57H949.46M954.41 127.11V139.13M951.21 127.11H957.61M951.21 139.13H957.61M962.57 117.89V129.91M959.37 117.89H965.77M959.37 129.91H965.77M970.73 115.75V127.78M967.53 115.75H973.93M967.53 127.78H973.93M978.88 120.96V132.99M975.68 120.96H982.09M975.68 132.99H982.09M987.04 135.39V147.42M983.84 135.39H990.24M983.84 147.42H990.24M995.2 155.04V171.08M992 155.04H998.4M992 171.08H998.4" fill="none" stroke="#e0283c" stroke-width="1.2"/>
<rect x="662.2" y="95.3" width="339.3" height="187.1" fill="none" stroke="#555555" stroke-width="1.3"/>
<path d="M668.9 95.3v4M668.9 282.4v-4M701.53 95.3v4M701.53 282.4v-4M734.16 95.3v4M734.16 282.4v-4M766.79 95.3v4M766.79 282.4v-4M799.42 95.3v4M799.42 282.4v-4M832.05 95.3v4M832.05 282.4v-4M864.68 95.3v4M864.68 282.4v-4M897.31 95.3v4M897.31 282.4v-4M929.94 95.3v4M929.94 282.4v-4M962.57 95.3v4M962.57 282.4v-4M995.2 95.3v4M995.2 282.4v-4M662.2 269.04h4M1001.5 269.04h-4M662.2 242.31h4M1001.5 242.31h-4M662.2 215.58h4M1001.5 215.58h-4M662.2 188.85h4M1001.5 188.85h-4M662.2 162.12h4M1001.5 162.12h-4M662.2 135.39h4M1001.5 135.39h-4M662.2 108.66h4M1001.5 108.66h-4" stroke="#555555" stroke-width="1.3"/>
<g font-size="16" fill="#303030"><text x="668.9" y="301.7" text-anchor="middle">0</text><text x="701.53" y="301.7" text-anchor="middle">10</text><text x="734.16" y="301.7" text-anchor="middle">20</text><text x="766.79" y="301.7" text-anchor="middle">30</text><text x="799.42" y="301.7" text-anchor="middle">40</text><text x="832.05" y="301.7" text-anchor="middle">50</text><text x="864.68" y="301.7" text-anchor="middle">60</text><text x="897.31" y="301.7" text-anchor="middle">70</text><text x="929.94" y="301.7" text-anchor="middle">80</text><text x="962.57" y="301.7" text-anchor="middle">90</text><text x="995.2" y="301.7" text-anchor="middle">100</text><text x="656" y="276.04" text-anchor="end">-0.06</text><text x="656" y="249.31" text-anchor="end">-0.04</text><text x="656" y="222.58" text-anchor="end">-0.02</text><text x="656" y="195.85" text-anchor="end">0</text><text x="656" y="169.12" text-anchor="end">0.02</text><text x="656" y="142.39" text-anchor="end">0.04</text><text x="656" y="115.66" text-anchor="end">0.06</text></g>
<line x1="685.21" y1="352.8" x2="685.21" y2="540.5" stroke="#d2d2d2" stroke-width="1" stroke-dasharray="1.6 3.4"/>
<line x1="717.85" y1="352.8" x2="717.85" y2="540.5" stroke="#d2d2d2" stroke-width="1" stroke-dasharray="1.6 3.4"/>
<line x1="750.48" y1="352.8" x2="750.48" y2="540.5" stroke="#d2d2d2" stroke-width="1" stroke-dasharray="1.6 3.4"/>
<line x1="783.11" y1="352.8" x2="783.11" y2="540.5" stroke="#d2d2d2" stroke-width="1" stroke-dasharray="1.6 3.4"/>
<line x1="815.74" y1="352.8" x2="815.74" y2="540.5" stroke="#d2d2d2" stroke-width="1" stroke-dasharray="1.6 3.4"/>
<line x1="848.37" y1="352.8" x2="848.37" y2="540.5" stroke="#d2d2d2" stroke-width="1" stroke-dasharray="1.6 3.4"/>
<line x1="881" y1="352.8" x2="881" y2="540.5" stroke="#d2d2d2" stroke-width="1" stroke-dasharray="1.6 3.4"/>
<line x1="913.62" y1="352.8" x2="913.62" y2="540.5" stroke="#d2d2d2" stroke-width="1" stroke-dasharray="1.6 3.4"/>
<line x1="946.25" y1="352.8" x2="946.25" y2="540.5" stroke="#d2d2d2" stroke-width="1" stroke-dasharray="1.6 3.4"/>
<line x1="978.88" y1="352.8" x2="978.88" y2="540.5" stroke="#d2d2d2" stroke-width="1" stroke-dasharray="1.6 3.4"/>
<line x1="662.2" y1="511.62" x2="1001.5" y2="511.62" stroke="#d2d2d2" stroke-width="1" stroke-dasharray="1.6 3.4"/>
<line x1="662.2" y1="482.75" x2="1001.5" y2="482.75" stroke="#d2d2d2" stroke-width="1" stroke-dasharray="1.6 3.4"/>
<line x1="662.2" y1="453.87" x2="1001.5" y2="453.87" stroke="#d2d2d2" stroke-width="1" stroke-dasharray="1.6 3.4"/>
<line x1="662.2" y1="424.99" x2="1001.5" y2="424.99" stroke="#d2d2d2" stroke-width="1" stroke-dasharray="1.6 3.4"/>
<line x1="662.2" y1="396.12" x2="1001.5" y2="396.12" stroke="#d2d2d2" stroke-width="1" stroke-dasharray="1.6 3.4"/>
<line x1="662.2" y1="367.24" x2="1001.5" y2="367.24" stroke="#d2d2d2" stroke-width="1" stroke-dasharray="1.6 3.4"/>
<line x1="668.9" y1="352.8" x2="668.9" y2="540.5" stroke="#e9e9e9" stroke-width="1.3"/>
<line x1="701.53" y1="352.8" x2="701.53" y2="540.5" stroke="#e9e9e9" stroke-width="1.3"/>
<line x1="734.16" y1="352.8" x2="734.16" y2="540.5" stroke="#e9e9e9" stroke-width="1.3"/>
<line x1="766.79" y1="352.8" x2="766.79" y2="540.5" stroke="#e9e9e9" stroke-width="1.3"/>
<line x1="799.42" y1="352.8" x2="799.42" y2="540.5" stroke="#e9e9e9" stroke-width="1.3"/>
<line x1="832.05" y1="352.8" x2="832.05" y2="540.5" stroke="#e9e9e9" stroke-width="1.3"/>
<line x1="864.68" y1="352.8" x2="864.68" y2="540.5" stroke="#e9e9e9" stroke-width="1.3"/>
<line x1="897.31" y1="352.8" x2="897.31" y2="540.5" stroke="#e9e9e9" stroke-width="1.3"/>
<line x1="929.94" y1="352.8" x2="929.94" y2="540.5" stroke="#e9e9e9" stroke-width="1.3"/>
<line x1="962.57" y1="352.8" x2="962.57" y2="540.5" stroke="#e9e9e9" stroke-width="1.3"/>
<line x1="995.2" y1="352.8" x2="995.2" y2="540.5" stroke="#e9e9e9" stroke-width="1.3"/>
<line x1="662.2" y1="526.06" x2="1001.5" y2="526.06" stroke="#e9e9e9" stroke-width="1.3"/>
<line x1="662.2" y1="497.18" x2="1001.5" y2="497.18" stroke="#e9e9e9" stroke-width="1.3"/>
<line x1="662.2" y1="468.31" x2="1001.5" y2="468.31" stroke="#e9e9e9" stroke-width="1.3"/>
<line x1="662.2" y1="439.43" x2="1001.5" y2="439.43" stroke="#e9e9e9" stroke-width="1.3"/>
<line x1="662.2" y1="410.55" x2="1001.5" y2="410.55" stroke="#e9e9e9" stroke-width="1.3"/>
<line x1="662.2" y1="381.68" x2="1001.5" y2="381.68" stroke="#e9e9e9" stroke-width="1.3"/>
<line x1="662.2" y1="352.8" x2="1001.5" y2="352.8" stroke="#e9e9e9" stroke-width="1.3"/>
<polyline points="668.9,480.44 677.06,457.33 685.21,398.43 693.37,393.23 701.53,415.17 709.69,428.75 717.85,429.9 726,439.43 734.16,452.14 742.32,455.02 750.48,462.53 758.63,472.06 766.79,484.48 774.95,496.03 783.11,508.74 791.26,524.62 799.42,527.79 807.58,521.44 815.74,508.74 823.89,495.16 832.05,479.28 840.21,469.75 848.37,440.3 856.52,393.23 864.68,415.17 872.84,428.75 881,432.5 889.15,434.81 897.31,438.28 905.47,452.14 913.62,459.36 921.78,462.53 929.94,472.06 938.1,484.48 946.25,497.18 954.41,513.93 962.57,528.66 970.73,525.48 978.88,518.26 987.04,507.58 995.2,497.18" fill="none" stroke="#3c3cd2" stroke-width="1.3" stroke-linejoin="round"/>
<path d="M668.9 474.66V486.21M665.7 474.66H672.1M665.7 486.21H672.1M677.06 446.36V468.31M673.86 446.36H680.26M673.86 468.31H680.26M685.21 378.21V418.64M682.01 378.21H688.41M682.01 418.64H688.41M693.37 380.81V405.64M690.17 380.81H696.57M690.17 405.64H696.57M701.53 409.4V420.95M698.33 409.4H704.73M698.33 420.95H704.73M709.69 424.7V432.79M706.49 424.7H712.89M706.49 432.79H712.89M717.85 425.86V433.94M714.64 425.86H721.05M714.64 433.94H721.05M726 435.39V443.47M722.8 435.39H729.2M722.8 443.47H729.2M734.16 448.09V456.18M730.96 448.09H737.36M730.96 456.18H737.36M742.32 450.98V459.07M739.12 450.98H745.52M739.12 459.07H745.52M750.48 458.49V466.58M747.27 458.49H753.68M747.27 466.58H753.68M758.63 468.02V476.1M755.43 468.02H761.83M755.43 476.1H761.83M766.79 480.44V488.52M763.59 480.44H769.99M763.59 488.52H769.99M774.95 491.99V500.07M771.75 491.99H778.15M771.75 500.07H778.15M783.11 504.69V512.78M779.9 504.69H786.31M779.9 512.78H786.31M791.26 520.57V528.66M788.06 520.57H794.46M788.06 528.66H794.46M799.42 523.75V531.84M796.22 523.75H802.62M796.22 531.84H802.62M807.58 517.4V525.48M804.38 517.4H810.78M804.38 525.48H810.78M815.74 504.69V512.78M812.53 504.69H818.94M812.53 512.78H818.94M823.89 491.12V499.21M820.69 491.12H827.09M820.69 499.21H827.09M832.05 475.24V483.32M828.85 475.24H835.25M828.85 483.32H835.25M840.21 465.71V473.79M837.01 465.71H843.41M837.01 473.79H843.41M848.37 422.97V457.62M845.16 422.97H851.57M845.16 457.62H851.57M856.52 384.56V401.89M853.32 384.56H859.72M853.32 401.89H859.72M864.68 404.78V425.57M861.48 404.78H867.88M861.48 425.57H867.88M872.84 424.7V432.79M869.64 424.7H876.04M869.64 432.79H876.04M881 428.46V436.54M877.79 428.46H884.2M877.79 436.54H884.2M889.15 430.77V438.85M885.95 430.77H892.35M885.95 438.85H892.35M897.31 434.23V442.32M894.11 434.23H900.51M894.11 442.32H900.51M905.47 448.09V456.18M902.27 448.09H908.67M902.27 456.18H908.67M913.62 455.31V463.4M910.42 455.31H916.83M910.42 463.4H916.83M921.78 458.49V466.58M918.58 458.49H924.98M918.58 466.58H924.98M929.94 468.02V476.1M926.74 468.02H933.14M926.74 476.1H933.14M938.1 480.44V488.52M934.9 480.44H941.3M934.9 488.52H941.3M946.25 493.14V501.23M943.05 493.14H949.46M943.05 501.23H949.46M954.41 509.89V517.98M951.21 509.89H957.61M951.21 517.98H957.61M962.57 524.62V532.7M959.37 524.62H965.77M959.37 532.7H965.77M970.73 521.44V529.53M967.53 521.44H973.93M967.53 529.53H973.93M978.88 514.22V522.31M975.68 514.22H982.09M975.68 522.31H982.09M987.04 503.54V511.62M983.84 503.54H990.24M983.84 511.62H990.24M995.2 493.14V501.23M992 493.14H998.4M992 501.23H998.4" fill="none" stroke="#3c3cd2" stroke-width="1.2"/>
<polyline points="668.9,486.79 677.06,470.62 685.21,413.15 693.37,377.06 701.53,414.31 709.69,427.88 717.85,428.75 726,437.41 734.16,449.83 742.32,455.02 750.48,459.36 758.63,468.89 766.79,478.13 774.95,487.37 783.11,499.21 791.26,511.91 799.42,525.48 807.58,525.48 815.74,518.26 823.89,506.71 832.05,486.79 840.21,472.06 848.37,461.38 856.52,390.05 864.68,398.43 872.84,431.06 881,433.08 889.15,435.68 897.31,439.43 905.47,450.98 913.62,458.2 921.78,461.38 929.94,468.89 938.1,479.28 946.25,490.83 954.41,503.54 962.57,518.26 970.73,527.79 978.88,527.79 987.04,518.26 995.2,502.38" fill="none" stroke="#e0283c" stroke-width="1.3" stroke-linejoin="round"/>
<path d="M668.9 482.17V491.41M665.7 482.17H672.1M665.7 491.41H672.1M677.06 459.36V481.88M673.86 459.36H680.26M673.86 481.88H680.26M685.21 381.97V444.34M682.01 381.97H688.41M682.01 444.34H688.41M693.37 362.91V391.21M690.17 362.91H696.57M690.17 391.21H696.57M701.53 405.64V422.97M698.33 405.64H704.73M698.33 422.97H704.73M709.69 423.84V431.92M706.49 423.84H712.89M706.49 431.92H712.89M717.85 424.7V432.79M714.64 424.7H721.05M714.64 432.79H721.05M726 433.37V441.45M722.8 433.37H729.2M722.8 441.45H729.2M734.16 445.78V453.87M730.96 445.78H737.36M730.96 453.87H737.36M742.32 450.98V459.07M739.12 450.98H745.52M739.12 459.07H745.52M750.48 455.31V463.4M747.27 455.31H753.68M747.27 463.4H753.68M758.63 464.84V472.93M755.43 464.84H761.83M755.43 472.93H761.83M766.79 474.08V482.17M763.59 474.08H769.99M763.59 482.17H769.99M774.95 483.32V491.41M771.75 483.32H778.15M771.75 491.41H778.15M783.11 495.16V503.25M779.9 495.16H786.31M779.9 503.25H786.31M791.26 507.87V515.95M788.06 507.87H794.46M788.06 515.95H794.46M799.42 521.44V529.53M796.22 521.44H802.62M796.22 529.53H802.62M807.58 521.44V529.53M804.38 521.44H810.78M804.38 529.53H810.78M815.74 514.22V522.31M812.53 514.22H818.94M812.53 522.31H818.94M823.89 502.67V510.76M820.69 502.67H827.09M820.69 510.76H827.09M832.05 482.75V490.83M828.85 482.75H835.25M828.85 490.83H835.25M840.21 468.02V476.1M837.01 468.02H843.41M837.01 476.1H843.41M848.37 447.81V474.95M845.16 447.81H851.57M845.16 474.95H851.57M856.52 371.28V408.82M853.32 371.28H859.72M853.32 408.82H859.72M864.68 381.68V415.17M861.48 381.68H867.88M861.48 415.17H867.88M872.84 420.08V442.03M869.64 420.08H876.04M869.64 442.03H876.04M881 429.04V437.12M877.79 429.04H884.2M877.79 437.12H884.2M889.15 431.63V439.72M885.95 431.63H892.35M885.95 439.72H892.35M897.31 435.39V443.47M894.11 435.39H900.51M894.11 443.47H900.51M905.47 446.94V455.02M902.27 446.94H908.67M902.27 455.02H908.67M913.62 454.16V462.24M910.42 454.16H916.83M910.42 462.24H916.83M921.78 457.33V465.42M918.58 457.33H924.98M918.58 465.42H924.98M929.94 464.84V472.93M926.74 464.84H933.14M926.74 472.93H933.14M938.1 475.24V483.32M934.9 475.24H941.3M934.9 483.32H941.3M946.25 486.79V494.87M943.05 486.79H949.46M943.05 494.87H949.46M954.41 499.49V507.58M951.21 499.49H957.61M951.21 507.58H957.61M962.57 514.22V522.31M959.37 514.22H965.77M959.37 522.31H965.77M970.73 523.75V531.84M967.53 523.75H973.93M967.53 531.84H973.93M978.88 523.75V531.84M975.68 523.75H982.09M975.68 531.84H982.09M987.04 514.22V522.31M983.84 514.22H990.24M983.84 522.31H990.24M995.2 498.34V506.43M992 498.34H998.4M992 506.43H998.4" fill="none" stroke="#e0283c" stroke-width="1.2"/>
<rect x="662.2" y="352.8" width="339.3" height="187.7" fill="none" stroke="#555555" stroke-width="1.3"/>
<path d="M668.9 352.8v4M668.9 540.5v-4M701.53 352.8v4M701.53 540.5v-4M734.16 352.8v4M734.16 540.5v-4M766.79 352.8v4M766.79 540.5v-4M799.42 352.8v4M799.42 540.5v-4M832.05 352.8v4M832.05 540.5v-4M864.68 352.8v4M864.68 540.5v-4M897.31 352.8v4M897.31 540.5v-4M929.94 352.8v4M929.94 540.5v-4M962.57 352.8v4M962.57 540.5v-4M995.2 352.8v4M995.2 540.5v-4M662.2 526.06h4M1001.5 526.06h-4M662.2 497.18h4M1001.5 497.18h-4M662.2 468.31h4M1001.5 468.31h-4M662.2 439.43h4M1001.5 439.43h-4M662.2 410.55h4M1001.5 410.55h-4M662.2 381.68h4M1001.5 381.68h-4M662.2 352.8h4M1001.5 352.8h-4" stroke="#555555" stroke-width="1.3"/>
<g font-size="16" fill="#303030"><text x="668.9" y="559.8" text-anchor="middle">0</text><text x="701.53" y="559.8" text-anchor="middle">10</text><text x="734.16" y="559.8" text-anchor="middle">20</text><text x="766.79" y="559.8" text-anchor="middle">30</text><text x="799.42" y="559.8" text-anchor="middle">40</text><text x="832.05" y="559.8" text-anchor="middle">50</text><text x="864.68" y="559.8" text-anchor="middle">60</text><text x="897.31" y="559.8" text-anchor="middle">70</text><text x="929.94" y="559.8" text-anchor="middle">80</text><text x="962.57" y="559.8" text-anchor="middle">90</text><text x="995.2" y="559.8" text-anchor="middle">100</text><text x="656" y="533.06" text-anchor="end">-10</text><text x="656" y="504.18" text-anchor="end">0</text><text x="656" y="475.31" text-anchor="end">10</text><text x="656" y="446.43" text-anchor="end">20</text><text x="656" y="417.55" text-anchor="end">30</text><text x="656" y="388.68" text-anchor="end">40</text><text x="656" y="359.8" text-anchor="end">50</text></g>
<g fill="#111" font-weight="bold" font-size="19" text-anchor="middle"><text x="315.7" y="69.4">Right Hip</text><text x="316.2" y="334.4">Right Knee</text><text x="315.2" y="597.3">Right Ankle</text><text x="842.2" y="80.5" font-size="18.6">CoM Vertical Displacement</text><text x="842.2" y="339.5" font-size="18.6">CoM Vertical Acceleration</text></g>
<g fill="#111" font-size="22"><text x="68" y="69">a</text><text x="68" y="338">b</text><text x="68" y="601">c</text><text x="588" y="68.5">a</text><text x="588" y="337.5">b</text></g>
<g fill="#303030" font-size="19" text-anchor="middle"><text transform="translate(82.4 179.9) rotate(-90)">Angle [degree]</text><text transform="translate(82.4 444.7) rotate(-90)">Angle [degree]</text><text transform="translate(82.4 707.7) rotate(-90)">Angle [degree]</text><text transform="translate(602 188.85) rotate(-90)" font-size="18.5">Displacement [m]</text><text transform="translate(616.5 446.65) rotate(-90)">Acceleration [m/s<tspan font-size="14" dy="-7.5">2</tspan><tspan dy="7.5">]</tspan></text><text x="305" y="847">Normalized Stridecycle (%)</text><text x="832.2" y="590.5" font-size="18.6">Normalized Stridecycle (%)</text></g>
<line x1="723.3" y1="615.7" x2="773.1" y2="615.7" stroke="#7474c6" stroke-width="1.4"/>
<line x1="839.2" y1="615.7" x2="888" y2="615.7" stroke="#d97878" stroke-width="1.4"/>
<g fill="#303030" font-size="15"><text x="778.6" y="622.2">Stage 1</text><text x="893.9" y="622.2">Stage 4</text></g>
</svg>
<div style="position:absolute;font-family:'Liberation Serif', serif;font-size:14.5px;color:#2a2a2a;-webkit-text-stroke:0.25px #2a2a2a;left:34.9px;top:862.7px;width:486px;text-align:justify;text-align-last:justify;letter-spacing:-0.05px;white-space:normal;line-height:16px;height:16px"><b>Fig. 1.</b>&nbsp; Typical example of joint angle trajectories of R2 for normalized stride cycle,</div><div style="position:absolute;font-family:'Liberation Serif', serif;font-size:14.5px;color:#2a2a2a;-webkit-text-stroke:0.25px #2a2a2a;left:34.9px;top:878.9px;width:486px;text-align:justify;text-align-last:justify;letter-spacing:0px;white-space:normal;line-height:16px;height:16px">1a represents the right hip angle, 1b represents the right knee angle, and 1c</div><div style="position:absolute;font-family:'Liberation Serif', serif;font-size:14.5px;color:#2a2a2a;-webkit-text-stroke:0.25px #2a2a2a;left:34.9px;top:895.3px;width:486px;text-align:justify;text-align-last:justify;letter-spacing:0px;white-space:normal;line-height:16px;height:16px">represents the right ankle angle. Presented are stage 1 and stage 4 with error bars.</div><div style="position:absolute;font-family:'Liberation Serif', serif;font-size:14.5px;color:#2a2a2a;-webkit-text-stroke:0.25px #2a2a2a;left:555.3px;top:636.4px;width:486px;text-align:justify;text-align-last:justify;letter-spacing:0px;white-space:normal;line-height:16px;height:16px"><b>Fig. 2.</b> COM vertical displacement and acceleration of R2 for normalized stride</div><div style="position:absolute;font-family:'Liberation Serif', serif;font-size:14.5px;color:#2a2a2a;-webkit-text-stroke:0.25px #2a2a2a;left:555.3px;top:652.7px;width:486px;text-align:justify;text-align-last:justify;letter-spacing:0px;white-space:normal;line-height:16px;height:16px">cycle, 2a represents COM vertical displacement, 2b represents COM acceleration.</div><div style="position:absolute;font-family:'Liberation Serif', serif;font-size:14.5px;color:#2a2a2a;-webkit-text-stroke:0.25px #2a2a2a;left:555.3px;top:669.6px;width:400px;letter-spacing:0.26px;white-space:normal;line-height:16px;height:16px">Presented are stage 1 and stage 4 with error bars.</div>
</body></html>
